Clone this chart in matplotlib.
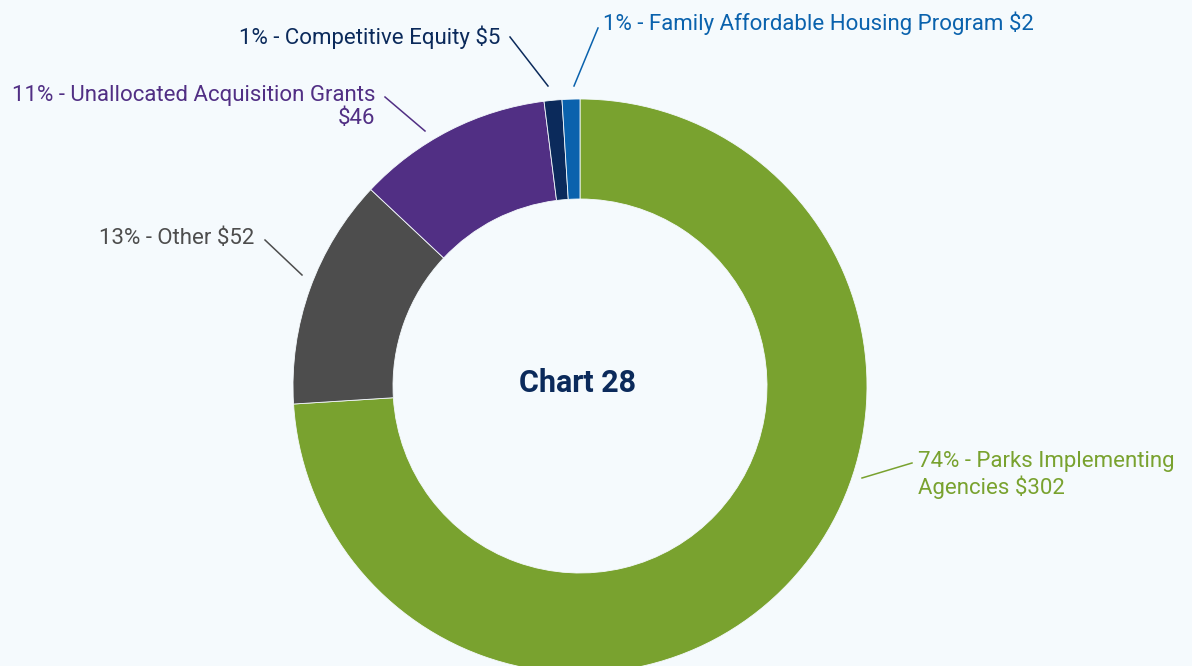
import matplotlib.pyplot as plt

# Funding split (percent of total) and dollar amounts
labels = ["Parks Implementing\nAgencies", "Other", "Unallocated Acquisition Grants\n",
          "Competitive Equity", "Family Affordable Housing Program"]
shares = [74, 13, 11, 1, 1]
dollars = [302, 52, 46, 5, 2]
colors = ["#79a22f", "#4d4d4d", "#512f84", "#0b2a5b", "#0a62ad"]

bg = "#f5fafd"
plt.rcParams["font.family"] = ["Roboto", "DejaVu Sans"]

fig = plt.figure(figsize=(11.92, 6.66), dpi=100, facecolor=bg)
ax = fig.add_axes([0, 0, 1, 1])
ax.set_facecolor(bg)

cx, cy, r = 580, 666 - 386, 287
ax.pie(shares, colors=colors, startangle=90, counterclock=False,
       center=(cx, cy), radius=r, frame=True,
       wedgeprops=dict(width=100, edgecolor=bg, linewidth=0.6))
ax.set_xlim(0, 1192)
ax.set_ylim(0, 666)
ax.set_aspect("equal")
ax.axis("off")

ax.text(cx - 2, 666 - 383, "Chart 28", ha="center", va="center",
        fontsize=22, fontweight="bold", color="#0b2a5b")

# label text: (x, y, alignment, leader line start, leader line end)
placements = [
    (918, 475, "left", (912, 463), (862, 478)),
    (254, 238, "right", (265, 240), (302, 275)),
    (375, 107, "right", (385, 97), (425, 131)),
    (500, 37, "right", (510, 37), (548, 86)),
    (603, 23, "left", (598, 28), (574, 86)),
]

for lab, s, d, c, (tx, ty, ha, p0, p1) in zip(labels, shares, dollars, colors, placements):
    if lab.endswith("\n"):
        txt = f"{s}% - {lab}${d}"
    else:
        txt = f"{s}% - {lab} ${d}"
    ax.text(tx, 666 - ty, txt, ha=ha, va="center", fontsize=16, color=c,
            linespacing=1.15, multialignment=ha)
    ax.plot([p0[0], p1[0]], [666 - p0[1], 666 - p1[1]], color=c, lw=1.1)

fig.savefig("out.png", dpi=100, facecolor=bg)
